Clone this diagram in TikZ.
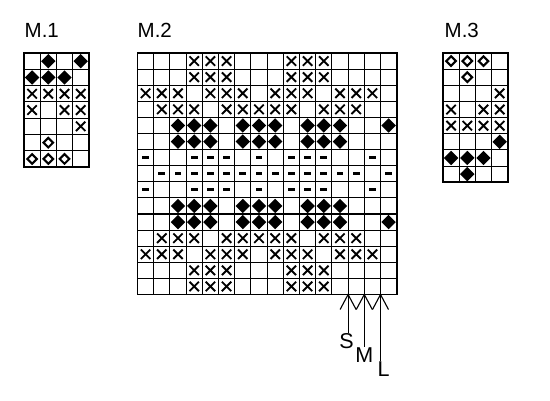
\documentclass[tikz,border=0pt]{standalone}
\usepackage{fontspec}
\setmainfont{Liberation Sans}
\newcommand\gxo{0}\newcommand\gyo{0}\newcommand\gsx{16.2}\newcommand\gsy{16.2}
\newcommand\mkchart[6]{%
  \foreach \i in {0,...,#5}{\draw[gridln] ({#1+\i*#3},#2) -- ({#1+\i*#3},{#2+#6*#4});}
  \foreach \j in {0,...,#6}{\draw[gridln] (#1,{#2+\j*#4}) -- ({#1+#5*#3},{#2+\j*#4});}
  \draw[frameln] (#1,#2) rectangle ({#1+#5*#3},{#2+#6*#4});}
\newcommand\sym[3]{\pic at ({\gxo+(#1-0.5)*\gsx},{\gyo+(#2-0.5)*\gsy}) {#3};}
\tikzset{
  gridln/.style={line width=1.1pt},
  frameln/.style={line width=1.6pt},
  xs/.pic={\draw[line width=1.9pt] (-4.7,-4.7)--(4.7,4.7) (-4.7,4.7)--(4.7,-4.7);},
  fd/.pic={\fill (0,-7.2)--(7.2,0)--(0,7.2)--(-7.2,0)--cycle;},
  hd/.pic={\draw[line width=2.1pt] (0,-4.8)--(4.8,0)--(0,4.8)--(-4.8,0)--cycle;},
  ds/.pic={\fill (-3.4,-1.4) rectangle (3.4,1.4);},
  ttl/.style={font=\fontsize{20.5}{20.5}\selectfont, inner sep=0pt, anchor=base west},
  lbl/.style={font=\fontsize{21.5}{21.5}\selectfont, inner sep=0pt, anchor=north},
  arr/.style={line width=1.1pt},
}
\begin{document}
\begin{tikzpicture}[x=1pt,y=-1pt]
\useasboundingbox (0,0) rectangle (550,400);
\fill[white] (0,0) rectangle (550,400);
% titles
\node[ttl] (t1) at (24.5,37.5) {M.1};
\node[ttl] (t2) at (137.5,37.5) {M.2};
\node[ttl] (t3) at (444.5,37.5) {M.3};
% ---------- M.1 ----------
\renewcommand\gxo{24}\renewcommand\gyo{53}\renewcommand\gsx{16.2}\renewcommand\gsy{16.3}
\mkchart{24}{53}{16.2}{16.3}{4}{7}
\foreach \c/\r in {2/1,4/1,1/2,2/2,3/2}{\sym{\c}{\r}{fd}}
\foreach \c/\r in {1/3,2/3,3/3,4/3,1/4,3/4,4/4,4/5}{\sym{\c}{\r}{xs}}
\foreach \c/\r in {2/6,1/7,2/7,3/7}{\sym{\c}{\r}{hd}}
% ---------- M.3 ----------
\renewcommand\gxo{443}\renewcommand\gyo{53}\renewcommand\gsx{16.2}\renewcommand\gsy{16.15}
\mkchart{443}{53}{16.2}{16.15}{4}{8}
\foreach \c/\r in {1/1,2/1,3/1,2/2}{\sym{\c}{\r}{hd}}
\foreach \c/\r in {4/3,1/4,3/4,4/4,1/5,2/5,3/5,4/5}{\sym{\c}{\r}{xs}}
\foreach \c/\r in {4/6,1/7,2/7,3/7,2/8}{\sym{\c}{\r}{fd}}
% ---------- M.2 ----------
\renewcommand\gxo{137.5}\renewcommand\gyo{53}\renewcommand\gsx{16.2}\renewcommand\gsy{16.1}
\mkchart{137.5}{53}{16.2}{16.1}{16}{15}
\foreach \r in {1,2,14,15}{\foreach \c in {4,5,6,10,11,12}{\sym{\c}{\r}{xs}}}
\foreach \r in {3,13}{\foreach \c in {1,2,3,5,6,7,9,10,11,13,14,15}{\sym{\c}{\r}{xs}}}
\foreach \r in {4,12}{\foreach \c in {2,3,4,6,7,8,9,10,12,13,14}{\sym{\c}{\r}{xs}}}
\foreach \r in {5,11}{\foreach \c in {3,4,5,7,8,9,11,12,13,16}{\sym{\c}{\r}{fd}}}
\foreach \r in {6,10}{\foreach \c in {3,4,5,7,8,9,11,12,13}{\sym{\c}{\r}{fd}}}
\foreach \r in {7,9}{\foreach \c in {1,4,5,6,8,10,11,12,15}{\sym{\c}{\r}{ds}}}
\foreach \c in {2,...,14,16}{\sym{\c}{8}{ds}}
% ---------- size arrows ----------
\coordinate (aS) at ({137.5+13*16.2},294.5);
\coordinate (aM) at ({137.5+14*16.2},294.5);
\coordinate (aL) at ({137.5+15*16.2},294.5);
\node[lbl] (tS) at ([xshift=-1.5,yshift=-39]aS) {S};
\node[lbl] (tM) at ([yshift=-53]aM) {M};
\node[lbl] (tL) at ([xshift=3,yshift=-67]aL) {L};
\draw[arr] (aS) -- ([yshift=-38]aS);
\draw[arr] (aM) -- ([yshift=-52]aM);
\draw[arr] (aL) -- ([yshift=-66]aL);
\foreach \p in {aS,aM,aL}{\draw[arr] ([xshift=-8,yshift=-15]\p) -- (\p) -- ([xshift=8,yshift=-15]\p);}
\end{tikzpicture}
\end{document}
